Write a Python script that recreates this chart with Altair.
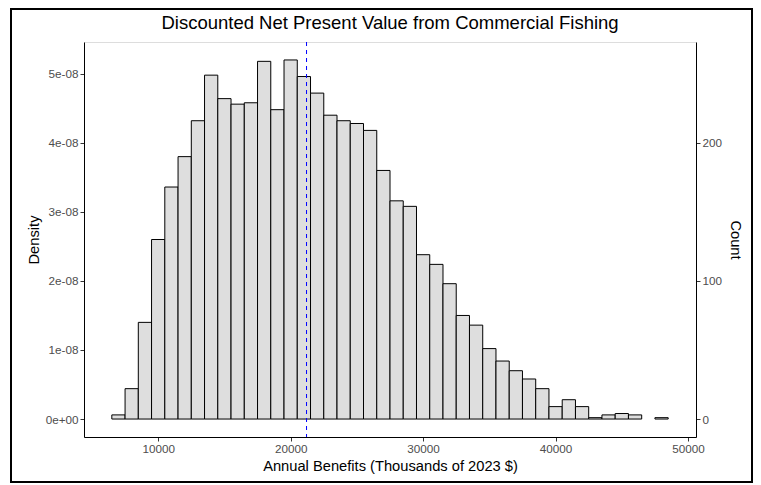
import altair as alt
import pandas as pd

# Histogram bins (Thousands of 2023 $)
bin_start = [6500, 7500, 8500, 9500, 10500, 11500, 12500, 13500, 14500, 15500,
             16500, 17500, 18500, 19500, 20500, 21500, 22500, 23500, 24500, 25500,
             26500, 27500, 28500, 29500, 30500, 31500, 32500, 33500, 34500, 35500,
             36500, 37500, 38500, 39500, 40500, 41500, 42500, 43500, 44500, 45500,
             46500, 47500]
bin_end = [7500, 8500, 9500, 10500, 11500, 12500, 13500, 14500, 15500, 16500,
           17500, 18500, 19500, 20500, 21500, 22500, 23500, 24500, 25500, 26500,
           27500, 28500, 29500, 30500, 31500, 32500, 33500, 34500, 35500, 36500,
           37500, 38500, 39500, 40500, 41500, 42500, 43500, 44500, 45500, 46500,
           47500, 48500]
counts = [3, 22, 70, 130, 168, 190, 216, 249, 232, 228,
          229, 259, 224, 260, 248, 236, 220, 216, 214, 209,
          180, 158, 154, 119, 112, 98, 75, 68, 51, 42,
          35, 29, 22, 9, 14, 9, 1, 3, 4, 3,
          0, 1]
density_per_count = 2e-10
mean_benefit = [21200]

df = pd.DataFrame({"bin_start": bin_start, "bin_end": bin_end, "count": counts})
df["density"] = df["count"] * density_per_count
df = df[df["count"] > 0]
mean_df = pd.DataFrame({"mean": mean_benefit})

FONT = "Liberation Sans"
LABEL_COLOR = "#4D4D4D"
TICK_COLOR = "#333333"

xscale = alt.Scale(domain=[4400, 50600], nice=False, zero=False)
xaxis = alt.Axis(values=[10000, 20000, 30000, 40000, 50000], format="d",
                 title="Annual Benefits (Thousands of 2023 $)", grid=False,
                 domainColor="black", domainWidth=1, tickColor=TICK_COLOR,
                 tickSize=4, labelColor=LABEL_COLOR, labelFontSize=11.7,
                 labelFont=FONT, titleFont=FONT, titleFontSize=14.7,
                 titleFontWeight="normal", titleColor="black",
                 labelPadding=2, titlePadding=4)

base = alt.Chart(df)

density_bars = base.mark_rect(fill="#DEDEDE", stroke="black", strokeWidth=1).encode(
    x=alt.X("bin_start:Q", scale=xscale, axis=xaxis),
    x2="bin_end:Q",
    y=alt.Y("density:Q",
            scale=alt.Scale(domain=[-13 * density_per_count, 273 * density_per_count],
                            nice=False, zero=False),
            axis=alt.Axis(orient="left", title="Density",
                          values=[0, 1e-8, 2e-8, 3e-8, 4e-8, 5e-8],
                          labelExpr="datum.value == 0 ? '0e+00' : format(datum.value * 1e8, '.0f') + 'e-08'",
                          grid=False, domainColor="black", domainWidth=1,
                          tickColor=TICK_COLOR, tickSize=4,
                          labelColor=LABEL_COLOR, labelFontSize=11.7, labelFont=FONT,
                          titleFont=FONT, titleFontSize=14.7, titleFontWeight="normal",
                          titleColor="black", labelPadding=2, titlePadding=4)),
    y2=alt.datum(0),
)

count_bars = base.mark_rect(opacity=0).encode(
    x=alt.X("bin_start:Q", scale=xscale),
    x2="bin_end:Q",
    y=alt.Y("count:Q", scale=alt.Scale(domain=[-13, 273], nice=False, zero=False),
            axis=alt.Axis(orient="right", title="Count", values=[0, 100, 200],
                          grid=False, domainColor="black", domainWidth=1,
                          tickColor=TICK_COLOR, tickSize=4,
                          labelColor=LABEL_COLOR, labelFontSize=11.7, labelFont=FONT,
                          titleFont=FONT, titleFontSize=14.7, titleFontWeight="normal",
                          titleColor="black", titleAngle=90, labelPadding=2,
                          titlePadding=6)),
    y2=alt.datum(0),
)

mean_rule = alt.Chart(mean_df).mark_rule(color="blue", strokeDash=[4, 4], strokeWidth=1).encode(
    x=alt.X("mean:Q", scale=xscale)
)

frame = alt.Chart(alt.Data(values=[{"a": 1}])).mark_rect(
    filled=False, stroke="black", strokeWidth=2
).encode(
    x=alt.value(-73), x2=alt.value(668), y=alt.value(-33), y2=alt.value(440)
)

chart = alt.layer(frame, density_bars, count_bars, mean_rule).resolve_scale(
    y="independent"
).properties(
    width=612,
    height=395,
    title=alt.TitleParams("Discounted Net Present Value from Commercial Fishing",
                          font=FONT, fontSize=18.5, fontWeight="normal",
                          color="black", anchor="middle", offset=0, dy=24),
    autosize=alt.AutoSizeParams(type="none"),
    padding={"left": 76, "top": 34, "right": 57, "bottom": 48},
).configure_view(stroke=None).configure(background="white")

chart.save("out.html", embed_options={"renderer": "svg", "actions": False})
